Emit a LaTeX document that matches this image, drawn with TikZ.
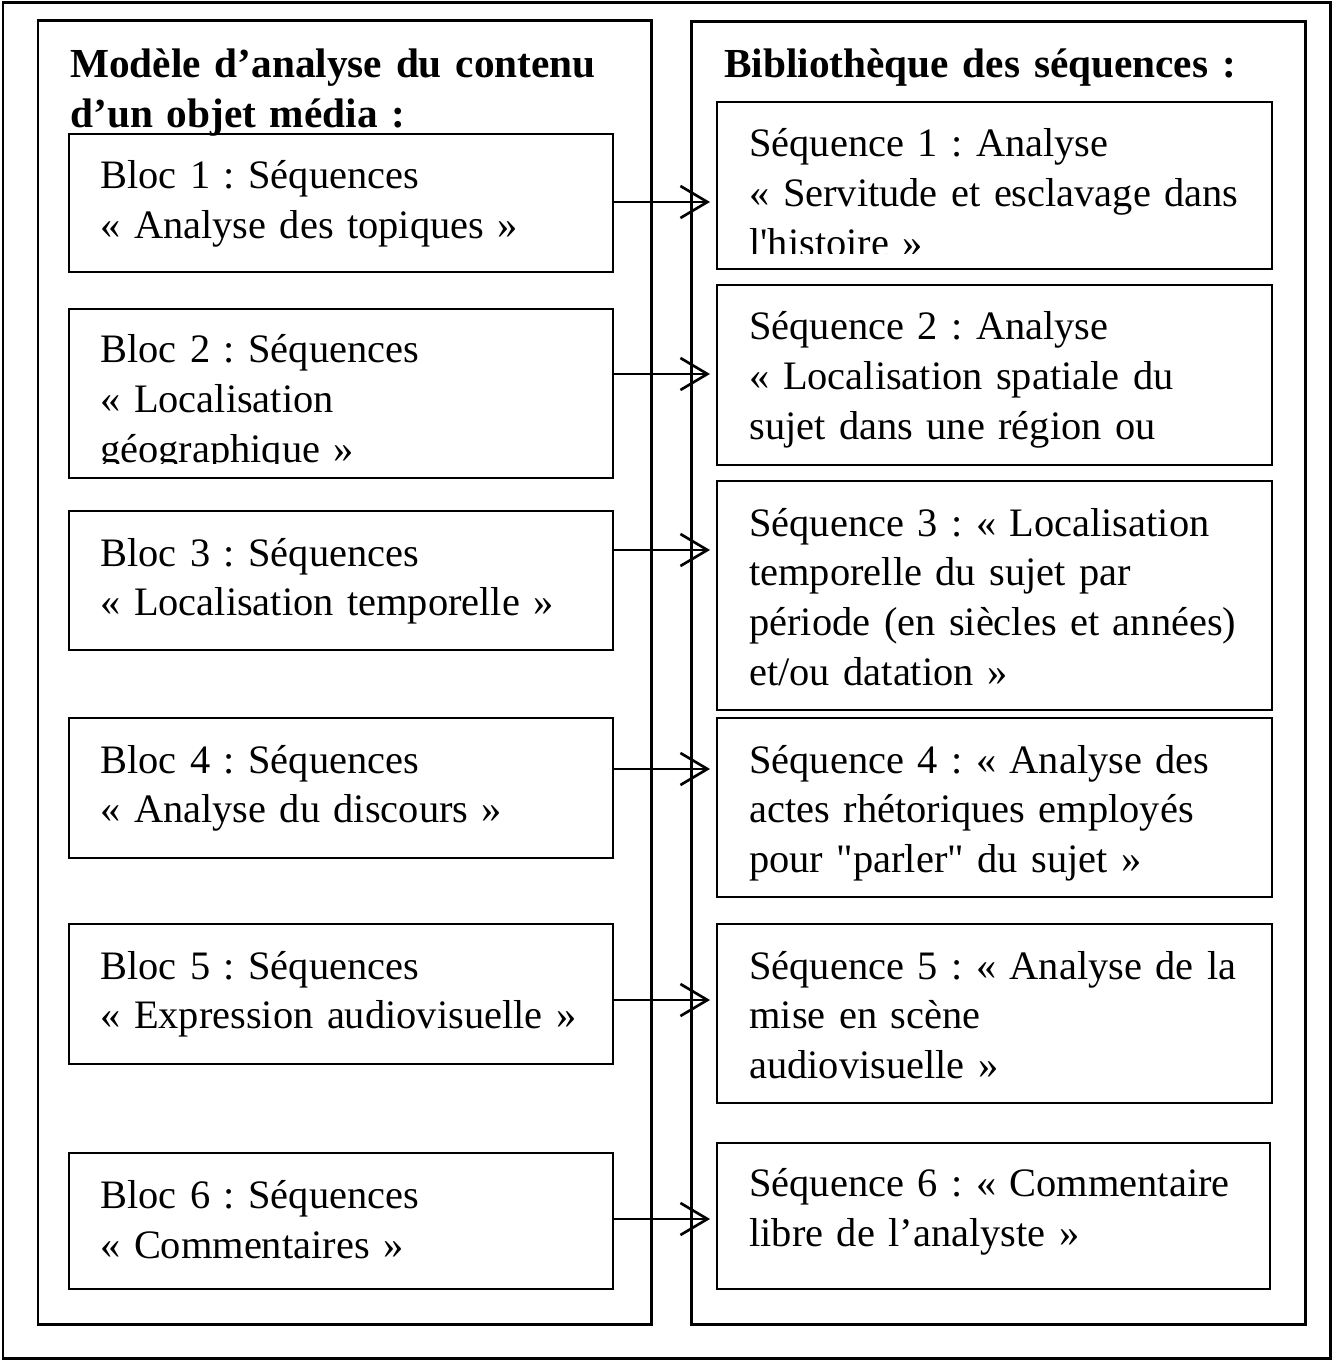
\documentclass[tikz,border=0pt]{standalone}
\usepackage{fontspec}
\setmainfont{Liberation Serif}
\frenchspacing
\usetikzlibrary{arrows.meta,positioning,calc}

\begin{document}
\begin{tikzpicture}[
  x=0.02cm, y=-0.02cm,
  frame/.style={draw=black, line width=1.7pt},
  blk/.style={rectangle, draw=black, line width=1.1pt, anchor=north west, inner sep=0pt},
  lbox/.style={blk, minimum width=10.88cm},
  rbox/.style={blk, minimum width=11.1cm},
  txt/.style={anchor=base west, inner sep=0pt, text width=11cm, align=left,
              font=\fontsize{23}{28.45}\selectfont},
  head/.style={anchor=base west, inner sep=0pt, text width=12cm, align=left,
               font=\fontsize{23.5}{27.9}\selectfont\bfseries},
  arr/.style={-{Straight Barb[length=0.54cm, width=0.64cm, line width=1.5pt]}, line width=1.2pt, shorten >=0.12cm}
]
\useasboundingbox (0,0) rectangle (1334,1361);

% Frames
\draw[frame] (3,3) rectangle (1330,1358);
\draw[frame] (38,21) rectangle (651,1324);
\draw[frame] (691,22) rectangle (1305,1324);

% Headings
\node[head] (hmod) at (70,78) {Modèle d’analyse du contenu\\d’un objet média :};
\node[head] (hbib) at (724,78) {Bibliothèque des séquences :};

% Blocs (left)
\node[lbox, minimum height=2.76cm] (b1) at (68,133) {};
\node[lbox, minimum height=3.38cm] (b2) at (68,308) {};
\node[lbox, minimum height=2.78cm] (b3) at (68,510) {};
\node[lbox, minimum height=2.8cm]  (b4) at (68,717) {};
\node[lbox, minimum height=2.8cm]  (b5) at (68,923) {};
\node[lbox, minimum height=2.72cm] (b6) at (68,1152) {};

% Sequences (right)
\node[rbox, minimum height=3.34cm] (s1) at (716,101) {};
\node[rbox, minimum height=3.6cm]  (s2) at (716,284) {};
\node[rbox, minimum height=4.58cm] (s3) at (716,480) {};
\node[rbox, minimum height=3.58cm] (s4) at (716,717) {};
\node[rbox, minimum height=3.58cm] (s5) at (716,923) {};
\node[rbox, minimum height=2.92cm, minimum width=11.06cm] (s6) at (716,1142) {};

% Texts of the blocs
\node[txt] (tb1) at ($(b1.north west)+(32,56)$) {Bloc 1 : Séquences\\« Analyse des topiques »};
\begin{scope}
  \clip (b2.north west) rectangle ($(b2.south east)+(0,-15)$);
  \node[txt] (tb2) at ($(b2.north west)+(32,55)$) {Bloc 2 : Séquences\\« Localisation\\géographique »};
\end{scope}
\node[txt] (tb3) at ($(b3.north west)+(32,56)$) {Bloc 3 : Séquences\\« Localisation temporelle »};
\node[txt] (tb4) at ($(b4.north west)+(32,56)$) {Bloc 4 : Séquences\\« Analyse du discours »};
\node[txt] (tb5) at ($(b5.north west)+(32,56)$) {Bloc 5 : Séquences\\« Expression audiovisuelle »};
\node[txt] (tb6) at ($(b6.north west)+(32,56)$) {Bloc 6 : Séquences\\« Commentaires »};

% Texts of the sequences
\begin{scope}
  \clip (s1.north west) rectangle ($(s1.south east)+(0,-16)$);
  \node[txt] (ts1) at ($(s1.north west)+(33,56)$) {Séquence 1 : Analyse\\« Servitude et esclavage dans\\l\textquotesingle histoire »};
\end{scope}
\begin{scope}
  \clip (s2.north west) rectangle ($(s2.south east)+(0,-16)$);
  \node[txt] (ts2) at ($(s2.north west)+(33,56)$) {Séquence 2 : Analyse\\« Localisation spatiale du\\sujet dans une région ou};
\end{scope}
\node[txt] (ts3) at ($(s3.north west)+(33,56)$) {Séquence 3 : « Localisation\\temporelle du sujet par\\période (en siècles et années)\\et/ou datation »};
\node[txt] (ts4) at ($(s4.north west)+(33,56)$) {Séquence 4 : « Analyse des\\actes rhétoriques employés\\pour \textquotedbl parler\textquotedbl{} du sujet »};
\node[txt] (ts5) at ($(s5.north west)+(33,56)$) {Séquence 5 : « Analyse de la\\mise en scène\\audiovisuelle »};
\node[txt] (ts6) at ($(s6.north west)+(33,54)$) {Séquence 6 : « Commentaire\\libre de l’analyste »};

% Arrows
\coordinate (a1) at (0,202);
\coordinate (a2) at (0,374);
\coordinate (a3) at (0,550);
\coordinate (a4) at (0,769);
\coordinate (a5) at (0,1000);
\coordinate (a6) at (0,1219);
\draw[arr] (b1.east |- a1) -- (s1.west |- a1);
\draw[arr] (b2.east |- a2) -- (s2.west |- a2);
\draw[arr] (b3.east |- a3) -- (s3.west |- a3);
\draw[arr] (b4.east |- a4) -- (s4.west |- a4);
\draw[arr] (b5.east |- a5) -- (s5.west |- a5);
\draw[arr] (b6.east |- a6) -- (s6.west |- a6);

\end{tikzpicture}
\end{document}
